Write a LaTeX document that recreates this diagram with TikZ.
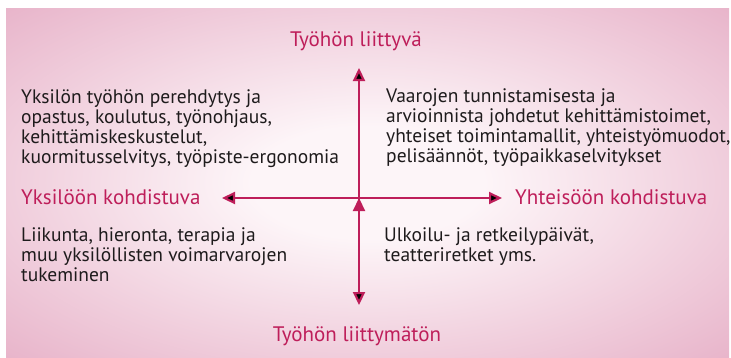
\documentclass[tikz,border=0pt]{standalone}
\usepackage{fontspec}
\setmainfont{PT Sans}
\usetikzlibrary{arrows.meta}
\definecolor{magentared}{RGB}{190,30,90}
\definecolor{inktext}{RGB}{30,27,28}
\definecolor{pinkedge}{RGB}{224,156,185}
\definecolor{pinkcenter}{RGB}{253,245,248}
\pgfdeclareradialshading{pinkglow}{\pgfpoint{0bp}{0bp}}{color(0bp)=(pinkcenter); color(8bp)=(pinkcenter); color(46bp)=(pinkedge); color(100bp)=(pinkedge)}

\begin{document}
\begin{tikzpicture}[x=1pt, y=-1pt,
    axis/.style={line width=2.2pt, draw=magentared, -{Triangle[length=13pt,width=12pt]}},
    pole/.style={text=magentared, font=\fontsize{21}{22}\selectfont, inner sep=0pt},
    item/.style={text=inktext, font=\fontsize{19.5}{19.8}\selectfont, align=left, inner sep=0pt, anchor=base west}]
    \useasboundingbox (0,0) rectangle (731,357);
    \shade[shading=pinkglow] (6,8) rectangle (729,357);

    \coordinate (c) at (359,198);
    \coordinate (ylos) at (359,68);
    \coordinate (alas) at (359,305);
    \coordinate (vasen) at (222,198);
    \coordinate (oikea) at (502,198);

    \path[axis]
    (c) edge (ylos)
    (c) edge (alas)
    (c) edge (vasen)
    (c) edge (oikea)
    ;

    % napojen otsikot
    \node[pole, anchor=base] (liittyva) at (356,46) {Työhön liittyvä};
    \node[pole, anchor=base] (liittymaton) at (357,341) {Työhön liittymätön};
    \node[pole, anchor=base west] (yksilo) at (21,204) {Yksilöön kohdistuva};
    \node[pole, anchor=base west] (yhteiso) at (515,204) {Yhteisöön kohdistuva};

    % lohkot (base = viimeinen rivi)
    \node[item] (vy) at (21,163) {Yksilön työhön perehdytys ja\\opastus, koulutus, työnohjaus,\\kehittämiskeskustelut,\\kuormitusselvitys, työpiste-ergonomia};
    \node[item] (oy) at (386,162) {Vaarojen tunnistamisesta ja\\arvioinnista johdetut kehittämistoimet,\\yhteiset toimintamallit, yhteistyömuodot,\\pelisäännöt, työpaikkaselvitykset};
    \node[item] (va) at (21,281) {Liikunta, hieronta, terapia ja\\muu yksilöllisten voimarvarojen\\tukeminen};
    \node[item] (oa) at (384,261) {Ulkoilu- ja retkeilypäivät,\\teatteriretket yms.};
\end{tikzpicture}
\end{document}
